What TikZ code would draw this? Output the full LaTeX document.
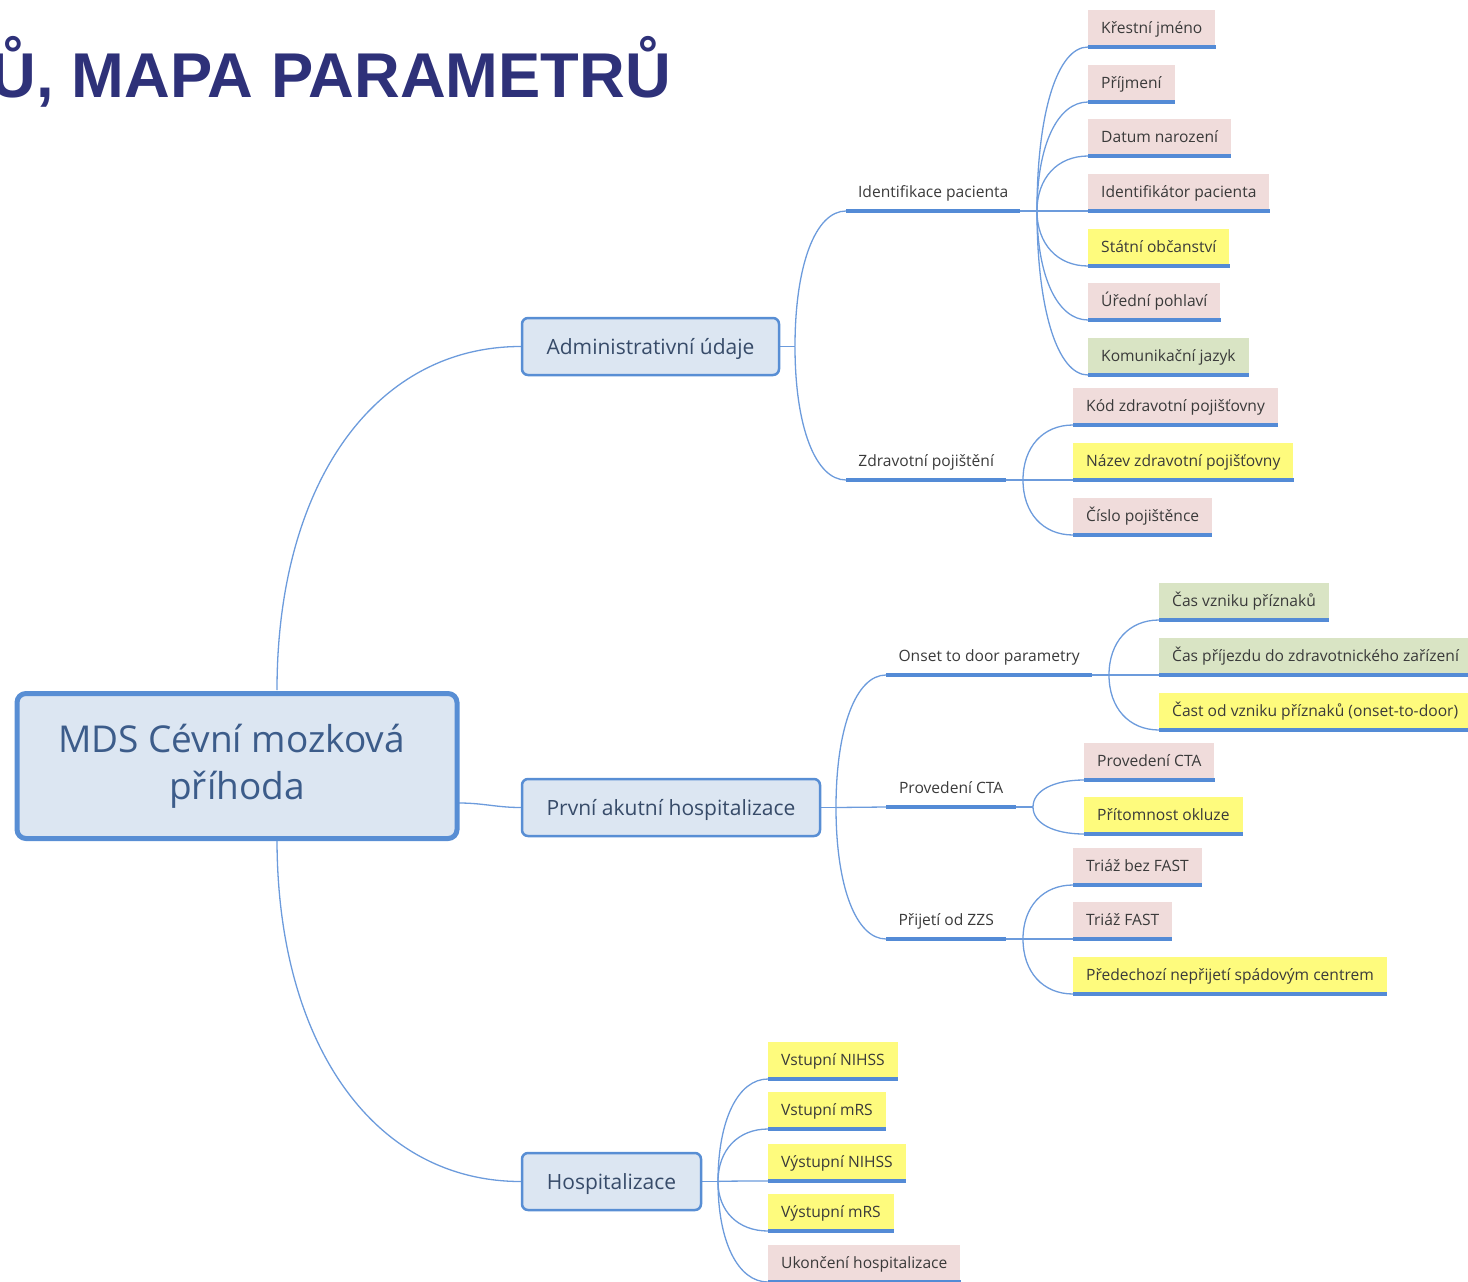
\documentclass[tikz,border=0pt]{standalone}
\usepackage{fontspec}
\setmainfont{Open Sans}
\newfontfamily\titlefont{Liberation Sans}
\usetikzlibrary{calc,backgrounds}
\definecolor{titleblue}{RGB}{46,49,121}
\definecolor{boxfill}{RGB}{220,230,242}
\definecolor{boxline}{RGB}{88,142,212}
\definecolor{roottext}{RGB}{60,92,138}
\definecolor{topictext}{RGB}{55,75,105}
\definecolor{leaftext}{RGB}{58,58,58}
\definecolor{pinkc}{RGB}{240,220,219}
\definecolor{yellowc}{RGB}{254,251,125}
\definecolor{greenc}{RGB}{217,228,196}
\definecolor{ulc}{RGB}{84,139,214}
\definecolor{connc}{RGB}{108,155,220}
\begin{document}
\begin{tikzpicture}[x=1pt,y=-1pt,
  leaf/.style={anchor=south west, inner xsep=13pt, inner ysep=0pt, minimum height=37pt,
    text height=12pt, text depth=2.5pt, font=\fontsize{15.6}{18}\selectfont, text=leaftext},
  sub/.style={anchor=south west, inner sep=0pt, minimum height=36pt,
    text height=12pt, text depth=2.5pt, font=\fontsize{15.6}{18}\selectfont, text=leaftext},
  topic/.style={draw=boxline, fill=boxfill, line width=2.5pt, rounded corners=6pt,
    minimum height=57pt, inner sep=0pt, text height=19pt, text depth=4pt,
    font=\fontsize{21}{25}\selectfont, text=topictext},
  conn/.style={draw=connc, line width=1.3pt},
  ul/.style={draw=ulc, line width=3.5pt},
  fan/.style={to path={.. controls ($(\tikztostart)!0.6!(\tikztostart|-\tikztotarget)$) and ($(\tikztotarget)!0.6!(\tikztotarget-|\tikztostart)$) .. (\tikztotarget)}}
]
\useasboundingbox (0,0) rectangle (1468,1282);

% title
\node[anchor=base east, inner sep=0pt, font=\titlefont\bfseries\fontsize{63.3}{63.3}\selectfont, text=titleblue] (title) at (671,97) {Ů, MAPA PARAMETRŮ};

% root
\node[draw=boxline, fill=boxfill, line width=5pt, rounded corners=9pt, minimum width=440pt, minimum height=145pt,
  inner sep=0pt, align=center, font=\fontsize{37}{47}\selectfont, text=roottext] (root) at (237,766)
  {MDS Cévní mozková\hspace*{11pt}\\příhoda};
\coordinate (rTop) at (277,690);
\coordinate (rBot) at (277,839);
\coordinate (rR) at (459,803);

% level 1
\node[topic, minimum width=257pt] (adm) at (650.5,346.5) {Administrativní údaje};
\node[topic, minimum width=298pt] (prv) at (671,807.5) {První akutní hospitalizace};
\node[topic, minimum width=179pt] (hosp) at (611.5,1181.5) {Hospitalizace};

% junctions
\coordinate (jAdm) at (795,346.5);
\coordinate (jPrv) at (836,807.5);
\coordinate (jHosp) at (718,1181.5);
\coordinate (jIdent) at (1037,211);
\coordinate (jZdrav) at (1023,480);
\coordinate (jOnset) at (1109,675);
\coordinate (jCTA) at (1033,807);
\coordinate (jZZS) at (1023,939);

% subtopics
\node[sub, minimum width=174pt] (sIdent) at (846,211) {Identifikace pacienta};
\node[sub, minimum width=160pt] (sZdrav) at (846,480) {Zdravotní pojištění};
\node[sub, minimum width=206pt] (sOnset) at (886,675) {Onset to door parametry};
\node[sub, minimum width=130pt] (sCTA) at (886,807) {Provedení CTA};
\node[sub, minimum width=120pt] (sZZS) at (886,939) {Přijetí od ZZS};

% leaves: Identifikace
\node[leaf, fill=pinkc] (a1) at (1088,47) {Křestní jméno};
\node[leaf, fill=pinkc] (a2) at (1088,102) {Příjmení};
\node[leaf, fill=pinkc] (a3) at (1088,156) {Datum narození};
\node[leaf, fill=pinkc] (a4) at (1088,211) {Identifikátor pacienta};
\node[leaf, fill=yellowc] (a5) at (1088,266) {Státní občanství};
\node[leaf, fill=pinkc] (a6) at (1088,320) {Úřední pohlaví};
\node[leaf, fill=greenc] (a7) at (1088,375) {Komunikační jazyk};
% Zdravotni
\node[leaf, fill=pinkc] (b1) at (1073,425) {Kód zdravotní pojišťovny};
\node[leaf, fill=yellowc] (b2) at (1073,480) {Název zdravotní pojišťovny};
\node[leaf, fill=pinkc] (b3) at (1073,535) {Číslo pojištěnce};
% Onset
\node[leaf, fill=greenc] (c1) at (1159,620) {Čas vzniku příznaků};
\node[leaf, fill=greenc] (c2) at (1159,675) {Čas příjezdu do zdravotnického zařízení};
\node[leaf, fill=yellowc] (c3) at (1159,730) {Čast od vzniku příznaků (onset-to-door)};
% CTA
\node[leaf, fill=pinkc] (d1) at (1084,780) {Provedení CTA};
\node[leaf, fill=yellowc] (d2) at (1084,834) {Přítomnost okluze};
% ZZS
\node[leaf, fill=pinkc] (e1) at (1073,885) {Triáž bez FAST};
\node[leaf, fill=pinkc] (e2) at (1073,939) {Triáž FAST};
\node[leaf, fill=yellowc] (e3) at (1073,994) {Předechozí nepřijetí spádovým centrem};
% Hospitalizace
\node[leaf, fill=yellowc] (h1) at (768,1079) {Vstupní NIHSS};
\node[leaf, fill=yellowc] (h2) at (768,1129) {Vstupní mRS};
\node[leaf, fill=yellowc] (h3) at (768,1181) {Výstupní NIHSS};
\node[leaf, fill=yellowc] (h4) at (768,1231) {Výstupní mRS};
\node[leaf, fill=pinkc] (h5) at (768,1282) {Ukončení hospitalizace};

% underlines
\foreach \n in {sIdent,sZdrav,sOnset,sCTA,sZZS,a1,a2,a3,a4,a5,a6,a7,b1,b2,b3,c1,c2,c3,d1,d2,e1,e2,e3,h1,h2,h3,h4,h5}
  \draw[ul] (\n.south west) -- (\n.south east);

\begin{scope}[on background layer]
  % root
  \draw[conn] (rTop) to[fan] (adm.west);
  \draw[conn] (rBot) to[fan] (hosp.west);
  \draw[conn] (rR) to[out=0,in=180] (prv.west);
  % level 1 to junctions
  \draw[conn] (adm.east) -- (jAdm);
  \draw[conn] (prv.east) -- (jPrv);
  \draw[conn] (hosp.east) -- (jHosp);
  \draw[conn] (jAdm) to[fan] (sIdent.south west);
  \draw[conn] (jAdm) to[fan] (sZdrav.south west);
  \draw[conn] (jPrv) to[fan] (sOnset.south west);
  \draw[conn] (jPrv) -- (sCTA.south west);
  \draw[conn] (jPrv) to[fan] (sZZS.south west);
  % subtopics to junctions
  \draw[conn] (sIdent.south east) -- (jIdent);
  \draw[conn] (sZdrav.south east) -- (jZdrav);
  \draw[conn] (sOnset.south east) -- (jOnset);
  \draw[conn] (sCTA.south east) -- (jCTA);
  \draw[conn] (sZZS.south east) -- (jZZS);
  % fans to leaves
  \foreach \n in {a1,a2,a3,a4,a5,a6,a7} \draw[conn] (jIdent) to[fan] (\n.south west);
  \foreach \n in {b1,b2,b3} \draw[conn] (jZdrav) to[fan] (\n.south west);
  \foreach \n in {c1,c2,c3} \draw[conn] (jOnset) to[fan] (\n.south west);
  \foreach \n in {d1,d2} \draw[conn] (jCTA) to[fan] (\n.south west);
  \foreach \n in {e1,e2,e3} \draw[conn] (jZZS) to[fan] (\n.south west);
  \foreach \n in {h1,h2,h3,h4,h5} \draw[conn] (jHosp) to[fan] (\n.south west);
\end{scope}
\end{tikzpicture}
\end{document}
